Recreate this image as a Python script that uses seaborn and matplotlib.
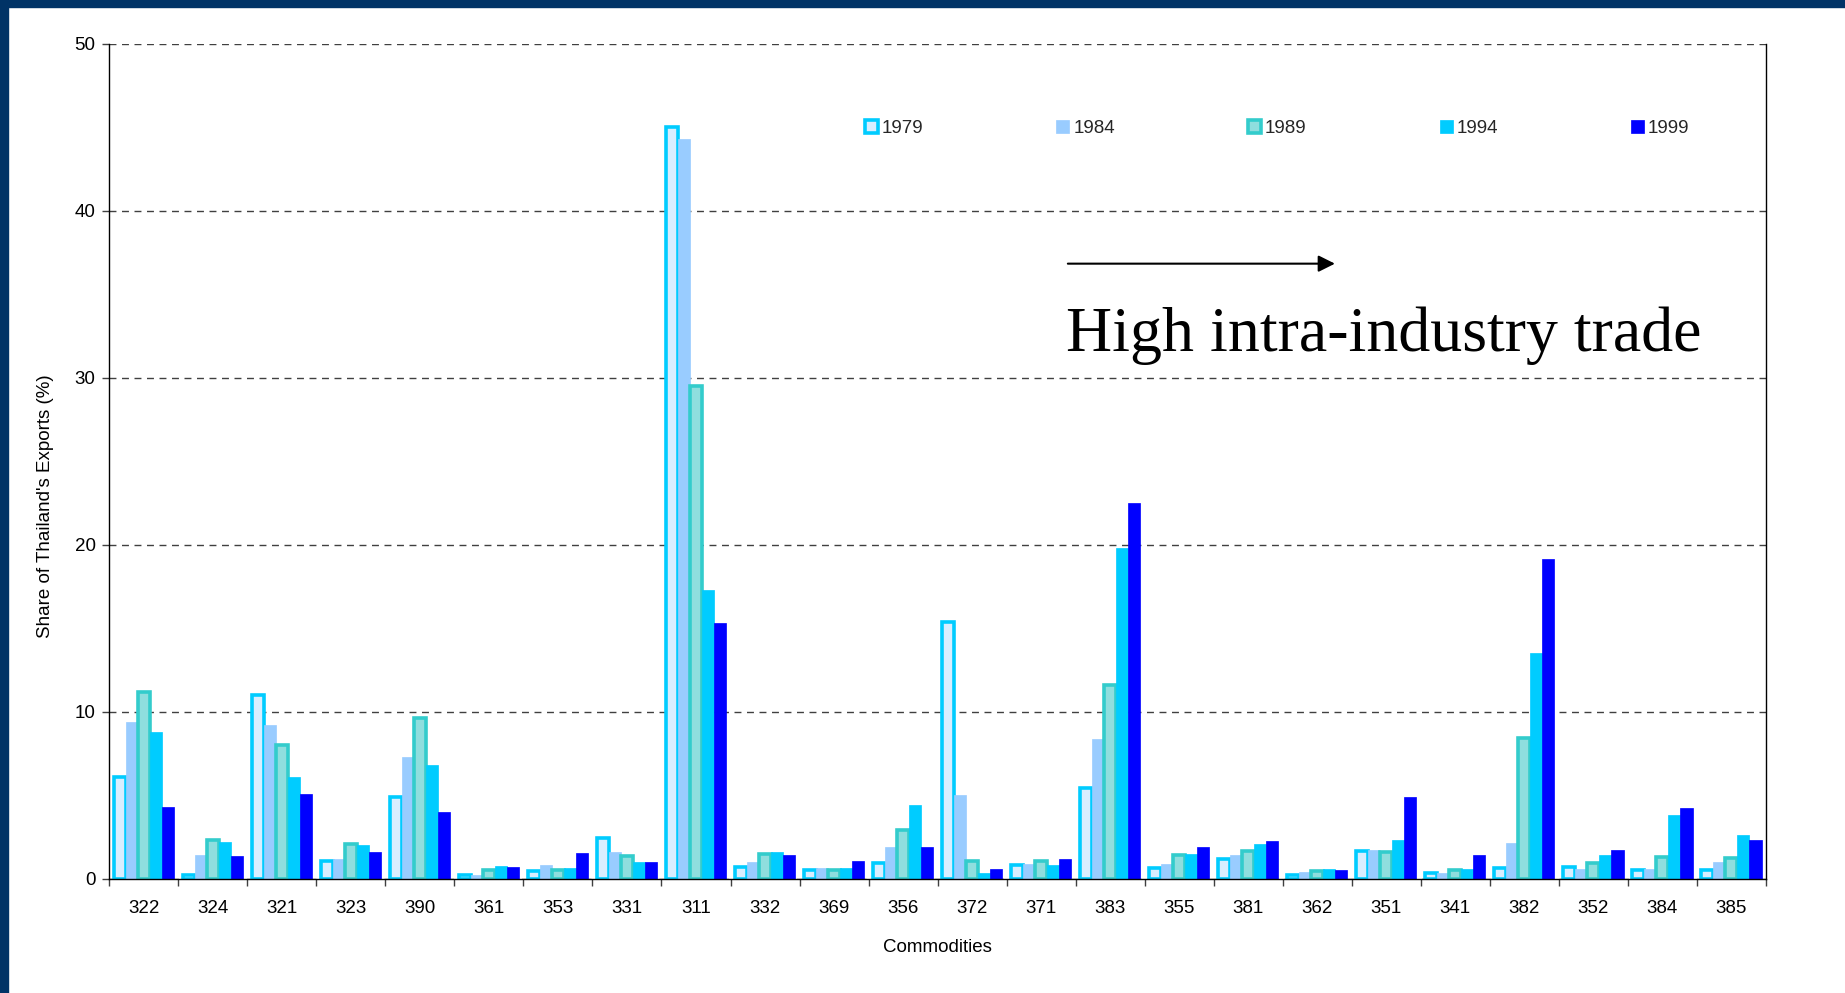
import pandas as pd
import seaborn as sns
import matplotlib.pyplot as plt
from matplotlib.patches import Rectangle

# Data
commodities = ["322", "324", "321", "323", "390", "361", "353", "331", "311", "332",
               "369", "356", "372", "371", "383", "355", "381", "362", "351", "341",
               "382", "352", "384", "385"]
years = ["1979", "1984", "1989", "1994", "1999"]

share_1979 = [6.1, 0.2, 11.0, 1.05, 4.9, 0.2, 0.45, 2.45, 45.0, 0.7,
              0.55, 0.95, 15.4, 0.8, 5.45, 0.65, 1.2, 0.25, 1.65, 0.35,
              0.65, 0.7, 0.55, 0.55]
share_1984 = [9.4, 1.4, 9.2, 1.2, 7.3, 0.2, 0.8, 1.6, 44.3, 1.0,
              0.65, 1.9, 5.0, 0.9, 8.4, 0.9, 1.4, 0.4, 1.7, 0.35,
              2.15, 0.6, 0.6, 1.0]
share_1989 = [11.2, 2.3, 8.0, 2.1, 9.6, 0.55, 0.55, 1.35, 29.5, 1.5,
              0.55, 2.95, 1.05, 1.05, 11.6, 1.4, 1.65, 0.45, 1.6, 0.55,
              8.45, 0.95, 1.3, 1.25]
share_1994 = [8.8, 2.2, 6.1, 2.0, 6.8, 0.75, 0.65, 1.0, 17.3, 1.6,
              0.65, 4.4, 0.35, 0.8, 19.8, 1.5, 2.1, 0.6, 2.3, 0.6,
              13.5, 1.45, 3.85, 2.6]
share_1999 = [4.3, 1.35, 5.1, 1.6, 4.0, 0.7, 1.55, 1.0, 15.3, 1.4,
              1.05, 1.9, 0.6, 1.2, 22.5, 1.9, 2.25, 0.55, 4.9, 1.4,
              19.15, 1.7, 4.25, 2.35]

rows = []
for yr, vals in zip(years, [share_1979, share_1984, share_1989, share_1994, share_1999]):
    for c, v in zip(commodities, vals):
        rows.append({"commodity": c, "year": yr, "share": v})
df = pd.DataFrame(rows)

face_colors = ["#D9EEFF", "#99CCFF", "#8FDEDE", "#00CCFF", "#0000FF"]
edge_colors = ["#00CCFF", "#99CCFF", "#33CCCC", "#00CCFF", "#0000FF"]
edge_widths = [2.6, 0.5, 2.6, 0.5, 0.5]

sns.set_theme(style="white")
plt.rcParams["font.family"] = ["Liberation Sans", "DejaVu Sans"]

fig, ax = plt.subplots(figsize=(18.45, 9.93), dpi=100)
fig.subplots_adjust(left=0.0593, right=0.957, top=0.956, bottom=0.115)

sns.barplot(data=df, x="commodity", y="share", hue="year", order=commodities,
            hue_order=years, palette=face_colors, width=0.88, gap=0,
            saturation=1, linewidth=0, legend=False, ax=ax)

for cont, fc, ec, lw in zip(ax.containers, face_colors, edge_colors, edge_widths):
    for p in cont.patches:
        p.set_facecolor(fc)
        p.set_edgecolor(ec)
        p.set_linewidth(lw)

# axes styling
ax.set_xlim(-0.5, len(commodities) - 0.5)
ax.set_ylim(0, 50)
ax.set_yticks(range(0, 51, 10))
ax.set_axisbelow(True)
ax.yaxis.grid(True, linestyle=(0, (5, 4)), color="#404040", linewidth=1)
ax.xaxis.grid(False)
for side in ["left", "bottom", "right"]:
    ax.spines[side].set_visible(True)
    ax.spines[side].set_color("black")
    ax.spines[side].set_linewidth(1)
ax.spines["top"].set_visible(False)

ax.set_xticks([i - 0.5 for i in range(len(commodities) + 1)], minor=True)
ax.tick_params(axis="x", which="major", length=0, pad=15, labelsize=13.5, colors="black")
ax.tick_params(axis="x", which="minor", length=5, width=1, color="#404040", direction="out", bottom=True)
ax.tick_params(axis="y", which="major", length=5, width=1, color="#404040", direction="out",
               left=True, pad=5, labelsize=13.5, labelcolor="black")

ax.set_xlabel("Commodities", fontsize=13.5, color="black", labelpad=16)
ax.set_ylabel("Share of Thailand's Exports (%)", fontsize=13.5, color="black")
ax.yaxis.set_label_coords(-0.0335, 0.446)

handles = [cont.patches[0] for cont in ax.containers]
ax.legend(handles, years, ncol=5, loc="center left", bbox_to_anchor=(0.456, 0.898),
          frameon=False, fontsize=13.5, handlelength=0.7, handleheight=0.7,
          handletextpad=0.2, columnspacing=7.1, borderpad=0, borderaxespad=0)

# arrow + note
ax.annotate("", xy=(0.7416, 0.7366), xytext=(0.577, 0.7366), xycoords="axes fraction",
            arrowprops=dict(arrowstyle="-|>", mutation_scale=25, lw=1.5, color="black"))
ax.text(0.5775, 0.632, "High intra-industry trade", transform=ax.transAxes,
        fontsize=46, family=["Liberation Serif", "DejaVu Serif"], ha="left", va="baseline",
        color="black")

# navy frame strips
fig.patches.append(Rectangle((0, 1 - 7 / 993), 1, 7 / 993, transform=fig.transFigure,
                             color="#003366", zorder=0))
fig.patches.append(Rectangle((0, 0), 8 / 1845, 1, transform=fig.transFigure,
                             color="#003366", zorder=0))

plt.savefig("out.png", dpi=100)
plt.close()
